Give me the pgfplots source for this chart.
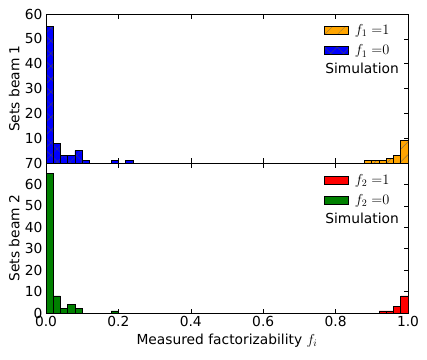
\documentclass[border=0pt]{standalone}
\usepackage{fontspec}
\setmainfont{DejaVu Sans}
\usepackage{pgfplots}
\pgfplotsset{compat=1.18}
\usetikzlibrary{patterns.meta}

\definecolor{mplorange}{HTML}{FFA500}
\definecolor{mplblue}{HTML}{0000FF}
\definecolor{mplgreen}{HTML}{008000}
\definecolor{mplred}{HTML}{FF0000}

\pgfplotsset{
  panel/.style={
    scale only axis,
    width=362pt,
    xmin=0, xmax=1,
    xtick={0,0.2,0.4,0.6,0.8,1.0},
    tick align=inside,
    major tick length=4.5pt,
    tick style={black, line width=0.5pt},
    axis line style={line width=0.8pt},
    font=\fontsize{13.8}{16}\selectfont,
    /pgf/number format/assume math mode=true,
    ylabel style={at={(axis description cs:-0.088,0.5)}, anchor=center},
    legend style={draw=none, fill=none, anchor=north west, inner sep=0pt,
                  row sep=5pt, font=\fontsize{13.8}{16}\selectfont},
    legend cell align=left,
    reverse legend,
  },
  hist/.style={ybar, bar width=0.02, bar shift=0pt, draw=black, line width=0.7pt,
    legend image code/.code={\draw[##1, line width=0.8pt] (0pt,-4pt) rectangle (24pt,4pt);
                             \path (28pt,0pt);}},
}

\begin{document}
\begin{tikzpicture}
\path[use as bounding box] (-46pt,14pt) rectangle (381pt,-345pt);

% upper panel: beam 1
\begin{axis}[panel,
    at={(0pt,0pt)}, anchor=north west,
    height=149pt,
    ymin=0, ymax=60,
    ytick={10,20,30,40,50,60},
    xticklabels=\empty,
    ylabel={Sets beam 1},
    legend style={at={(axis description cs:0.768,0.945)}},
]
\addplot[hist, fill=mplblue,
    postaction={pattern={Lines[angle=45,distance=9pt,line width=0.3pt]}, pattern color=black!70},
    postaction={pattern={Lines[angle=-45,distance=9pt,line width=0.3pt]}, pattern color=black!70}]
  coordinates {(0.01,55) (0.03,8) (0.05,3) (0.07,3) (0.09,5) (0.11,1) (0.19,1) (0.23,1)};
\addlegendentry{$f_1\;{=}0$}
\addplot[hist, fill=mplorange,
    postaction={pattern={Lines[angle=45,distance=9pt,line width=0.3pt]}, pattern color=black!60}]
  coordinates {(0.89,1) (0.91,1) (0.93,1) (0.95,2) (0.97,3) (0.99,9)};
\addlegendentry{$f_1\;{=}1$}
\node[anchor=west, inner sep=0pt] at (axis description cs:0.771,0.638) {Simulation};
\end{axis}

% lower panel: beam 2
\begin{axis}[panel,
    at={(0pt,-149pt)}, anchor=north west,
    height=150pt,
    ymin=0, ymax=70,
    ytick={0,10,20,30,40,50,60,70},
    xticklabel style={/pgf/number format/.cd, fixed, fixed zerofill, precision=1},
    xlabel={Measured factorizability $f_i$},
    xlabel style={at={(axis description cs:0.5,-0.185)}, anchor=center},
    ylabel={Sets beam 2},
    legend style={at={(axis description cs:0.768,0.94)}},
]
\addplot[hist, fill=mplgreen]
  coordinates {(0.01,65) (0.03,8) (0.05,2) (0.07,4) (0.09,2) (0.19,1)};
\addlegendentry{$f_2\;{=}0$}
\addplot[hist, fill=mplred]
  coordinates {(0.93,1) (0.95,1) (0.97,3) (0.99,8)};
\addlegendentry{$f_2\;{=}1$}
\node[anchor=west, inner sep=0pt] at (axis description cs:0.771,0.633) {Simulation};
\end{axis}
\end{tikzpicture}
\end{document}
